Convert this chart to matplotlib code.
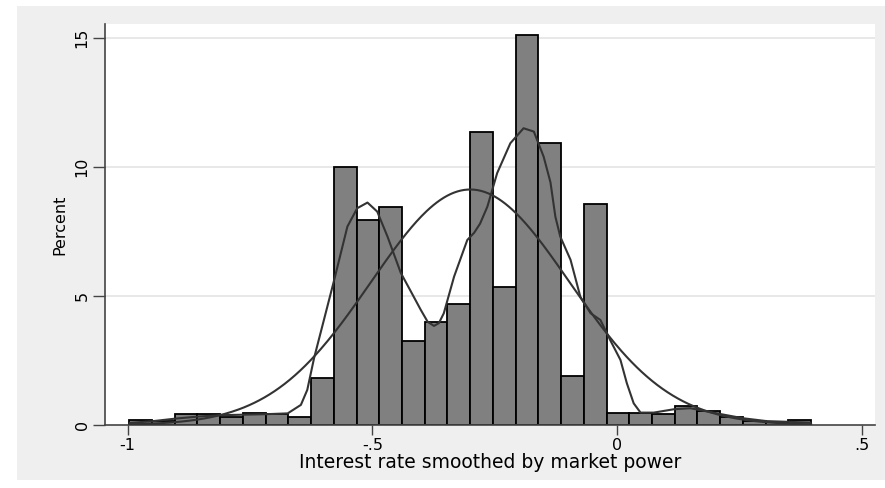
import numpy as np
import matplotlib.pyplot as plt
from matplotlib.patches import Rectangle

# histogram (percent per bin)
bin_start = -0.9967
bin_width = 0.04644
percent = np.array([0.19, 0.17, 0.41, 0.43, 0.32, 0.46, 0.44, 0.32, 1.82, 10.0,
                    7.95, 8.44, 3.27, 4.0, 4.68, 11.35, 5.34, 15.13, 10.94, 1.9,
                    8.57, 0.48, 0.45, 0.41, 0.72, 0.54, 0.32, 0.17, 0.1, 0.2])

# normal overlay parameters
norm_mean = -0.300
norm_sd = 0.203

# kernel density (percent scale)
kde_x = np.array([-0.995, -0.948, -0.901, -0.854, -0.809, -0.762, -0.716, -0.673,
                  -0.646, -0.633, -0.619, -0.599, -0.578, -0.551, -0.531, -0.510,
                  -0.490, -0.469, -0.442, -0.422, -0.401, -0.387, -0.374, -0.364,
                  -0.354, -0.333, -0.306, -0.292, -0.280, -0.265, -0.245, -0.218,
                  -0.191, -0.170, -0.150, -0.136, -0.126, -0.116, -0.095, -0.075,
                  -0.054, -0.034, -0.014, 0.007, 0.020, 0.034, 0.048, 0.075,
                  0.116, 0.150, 0.204, 0.258, 0.306, 0.354, 0.395])
kde_y = np.array([0.08, 0.15, 0.25, 0.33, 0.38, 0.40, 0.42, 0.45,
                  0.78, 1.36, 2.6, 4.07, 5.62, 7.69, 8.4, 8.62,
                  8.27, 7.3, 5.9, 5.2, 4.46, 4.0, 3.84, 3.95,
                  4.33, 5.75, 7.17, 7.45, 7.8, 8.46, 9.76, 10.92,
                  11.5, 11.37, 10.4, 9.4, 8.07, 7.3, 6.4, 4.97,
                  4.33, 4.07, 3.29, 2.52, 1.62, 0.84, 0.48, 0.48,
                  0.61, 0.65, 0.45, 0.26, 0.15, 0.12, 0.09])

fig = plt.figure(figsize=(8.85, 4.88), dpi=100)
fig.patch.set_facecolor('white')
fig.patches.append(Rectangle((17/885, 8/488), 868/885, 474/488, transform=fig.transFigure,
                             facecolor='#efefef', edgecolor='none', zorder=-10))

ax = fig.add_axes([105/885, 63/488, 770/885, 401/488])
ax.set_facecolor('white')

edges = bin_start + bin_width * np.arange(len(percent) + 1)
ax.bar(edges[:-1], percent, width=bin_width, align='edge', color='#808080',
       edgecolor='black', linewidth=1.3, zorder=2)

xs = np.linspace(edges[0], edges[-1], 400)
normal = 100 * bin_width * np.exp(-0.5 * ((xs - norm_mean) / norm_sd) ** 2) / (norm_sd * np.sqrt(2 * np.pi))
ax.plot(xs, normal, color='#333333', lw=1.5, zorder=3)
ax.plot(kde_x, kde_y, color='#333333', lw=1.5, zorder=3)

ax.set_xlim(-1.0463, 0.5271)
ax.set_ylim(0, 15.54)

ax.set_yticks([0, 5, 10, 15])
ax.set_yticklabels(['0', '5', '10', '15'], rotation=90, va='center', fontsize=11.5)
ax.set_xticks([-1, -0.5, 0, 0.5])
ax.set_xticklabels(['-1', '-.5', '0', '.5'], fontsize=11.5)
ax.tick_params(axis='y', length=9, width=1, color='#444444', pad=2)
ax.tick_params(axis='x', length=7, width=1, color='#444444', pad=2)

for y in [5, 10, 15]:
    ax.axhline(y, color='#e4e4e4', lw=1.2, zorder=0)

ax.spines['top'].set_visible(False)
ax.spines['right'].set_visible(False)
ax.spines['left'].set_color('#444444')
ax.spines['bottom'].set_color('#444444')
ax.spines['left'].set_linewidth(1.2)
ax.spines['bottom'].set_linewidth(1.2)

ax.set_xlabel('Interest rate smoothed by market power', fontsize=13.5, labelpad=0)
ax.set_ylabel('Percent', fontsize=11.5, labelpad=5)

plt.savefig('out.png', dpi=100)
